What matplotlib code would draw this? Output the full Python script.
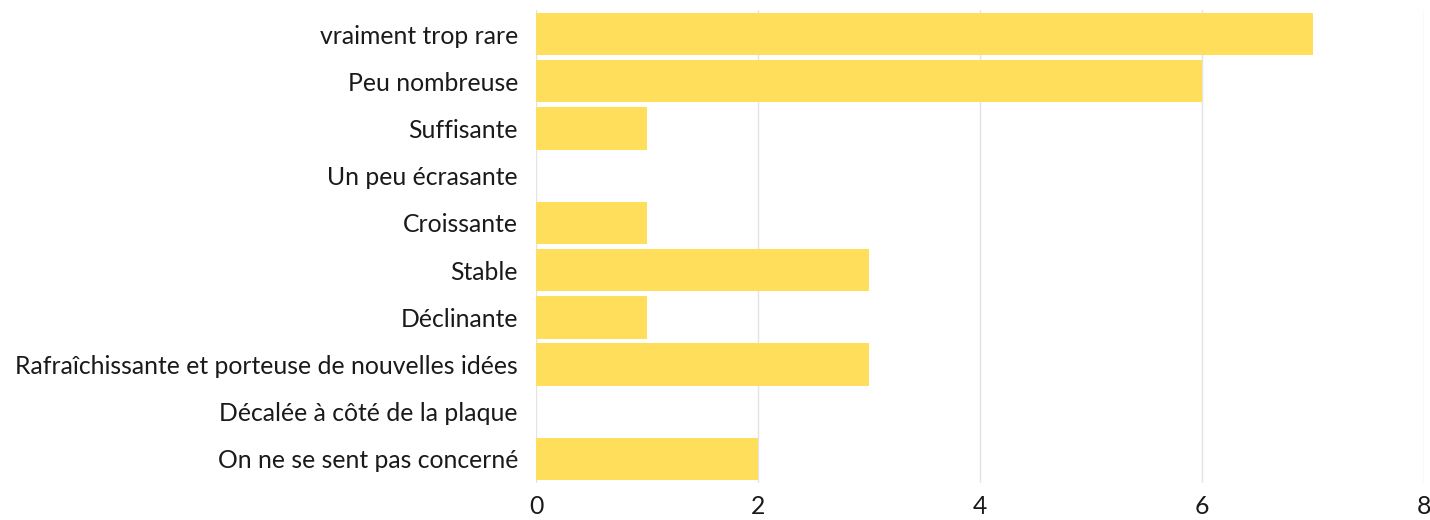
import matplotlib.pyplot as plt

categories = [
    "vraiment trop rare",
    "Peu nombreuse",
    "Suffisante",
    "Un peu écrasante",
    "Croissante",
    "Stable",
    "Déclinante",
    "Rafraîchissante et porteuse de nouvelles idées",
    "Décalée à côté de la plaque",
    "On ne se sent pas concerné",
]
counts = [7, 6, 1, 0, 1, 3, 1, 3, 0, 2]
x_ticks = [0, 2, 4, 6, 8]

plt.rcParams["font.family"] = ["Lato", "DejaVu Sans"]

fig = plt.figure(figsize=(14.3, 5.2), dpi=100)
ax = fig.add_axes([0.3748, 0.072, 0.621, 0.908])

y = list(range(len(categories)))
ax.barh(y, counts, height=0.9, color="#FFDE5C", zorder=2)

ax.set_yticks(y)
ax.set_yticklabels(categories, fontsize=17.8, color="#1a1a1a")
ax.set_ylim(len(categories) - 0.5, -0.5)

ax.set_xlim(0, 8)
ax.set_xticks(x_ticks)
ax.set_xticklabels([str(t) for t in x_ticks], fontsize=17.8, color="#1a1a1a")
ax.grid(axis="x", color="#e3e3e3", linewidth=1, zorder=0)
ax.tick_params(axis="both", length=0)
ax.tick_params(axis="y", pad=13)
ax.tick_params(axis="x", pad=9)
for s in ax.spines.values():
    s.set_visible(False)

fig.savefig("out.png", dpi=100)
